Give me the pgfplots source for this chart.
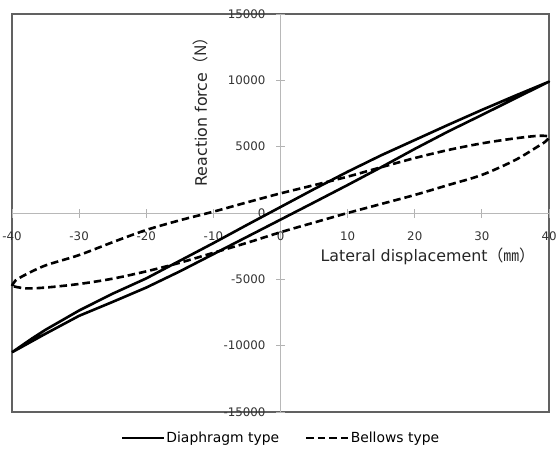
\documentclass[border=0pt]{standalone}
\usepackage{fontspec}
\setmainfont{DejaVu Sans}
\newfontfamily\cjk{Noto Sans CJK JP}
\usepackage{pgfplots}
\pgfplotsset{compat=1.18}

\begin{document}
\begin{tikzpicture}
\useasboundingbox (-12pt,-38pt) rectangle (544pt,412pt);
\begin{axis}[
    scale only axis,
    width=537pt, height=398pt,
    at={(0pt,0pt)}, anchor=south west,
    xmin=-40, xmax=40,
    ymin=-15000, ymax=15000,
    axis lines=middle,
    axis line style={draw=black!28, line width=0.8pt, -},
    axis background/.style={draw=black!62, line width=1.1pt},
    clip=false,
    xtick={-40,-30,...,40},
    ytick={-15000,-10000,...,15000},
    scaled y ticks=false,
    hide obscured x ticks=false,
    hide obscured y ticks=false,
    tick align=center,
    major tick length=9pt,
    tick style={black!30, line width=0.8pt},
    /pgf/number format/1000 sep={},
    /pgf/number format/assume math mode=true,
    ticklabel style={font=\fontsize{11.8}{12}\selectfont, text=black!80},
    xticklabel style={anchor=base, yshift=-23pt},
    yticklabel style={anchor=east, xshift=-7pt},
    xlabel={Lateral displacement{\cjk （㎜）}},
    ylabel={Reaction force{\cjk （N）}},
    label style={font=\fontsize{15.85}{16}\selectfont, text=black!85},
    xlabel style={at={(axis description cs:0.568,0.377)}, anchor=base west},
    ylabel style={at={(axis description cs:0.363,0.558)}, anchor=base west, rotate=90},
    legend style={at={(axis description cs:0.5,-0.0653)}, anchor=center,
        draw=none, legend columns=2,
        font=\fontsize{13.9}{14}\selectfont,
        nodes={inner xsep=1pt},
        /tikz/every even column/.append style={column sep=25pt}},
    legend image code/.code={\draw[#1] (0pt,0pt) -- (42pt,0pt);},
]
% Diaphragm type: upper branch then lower branch
\addplot[black, line width=2.6pt, line join=round] coordinates {
 (-40,-10500) (-37,-9450) (-35,-8800) (-30,-7350) (-25,-6080) (-20,-4930)
 (-15,-3600) (-10,-2270) (-5,-900) (0,450) (5,1800) (10,3110) (15,4350)
 (20,5500) (25,6650) (30,7770) (35,8850) (40,9900)
 (35,8650) (30,7390) (25,6150) (20,4830) (15,3450) (10,2110) (5,800)
 (0,-500) (-5,-1800) (-10,-3100) (-15,-4400) (-20,-5620) (-25,-6700)
 (-30,-7750) (-35,-9100) (-40,-10500)
};
\addlegendentry{Diaphragm type}
% Bellows type
\addplot[black, line width=2.6pt, dash pattern=on 7.5pt off 4pt, smooth] coordinates {
 (-40,-5500) (-39.5,-5100) (-38,-4650) (-35,-3950) (-30,-3170) (-25,-2200)
 (-20,-1280) (-15,-550) (-10,100) (-5,800) (0,1480) (5,2100) (10,2740)
 (15,3450) (20,4140) (25,4750) (30,5250) (35,5630) (38.5,5820) (40,5750)
 (39.5,5400) (38.7,5130) (35,4000) (30,2870) (25,2110) (20,1360) (15,680)
 (10,0) (5,-720) (0,-1450) (-5,-2250) (-10,-3000) (-15,-3750) (-20,-4400)
 (-25,-4950) (-30,-5350) (-35,-5620) (-38,-5680) (-40,-5500)
};
\addlegendentry{Bellows type}
\end{axis}
\end{tikzpicture}
\end{document}
